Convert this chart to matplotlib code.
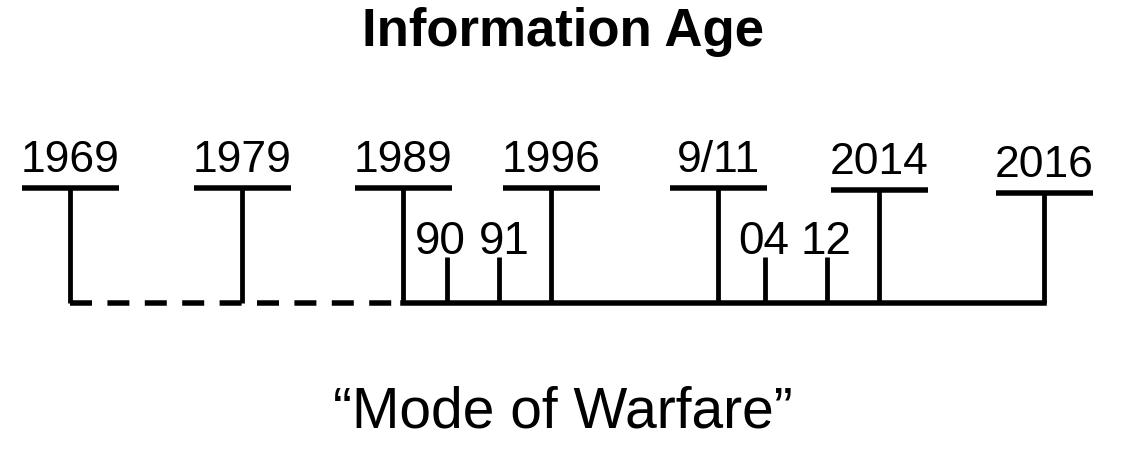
import matplotlib
matplotlib.use("Agg")
import matplotlib.pyplot as plt

# ---- data ----
title = "Information Age"
subtitle = "\u201cMode of Warfare\u201d"
event_labels = ["1969", "1979", "1989", "1996", "9/11", "2014", "2016"]
event_pos = [70, 242, 403, 551, 718, 879, 1044]        # timeline position
event_level = [188, 188, 188, 188, 188, 190, 193]      # height of the label bar
minor_labels = ["90", "91", "04", "12"]
minor_pos = [447, 499, 765, 827]
minor_label_pos = [440, 504, 764, 826]

# ---- style ----
W, H = 1125, 459
DPI = 100
FONT = ["Liberation Sans", "DejaVu Sans"]
base_y = 303
minor_top = 257
bar_half = 48.5
lw_px = lambda px: px * 72 / DPI

fig = plt.figure(figsize=(W / DPI, H / DPI), dpi=DPI)
ax = fig.add_axes([0, 0, 1, 1])
ax.set_xlim(0, W)
ax.set_ylim(H, 0)
ax.axis("off")

# baseline: dashed up to third event, solid afterwards
ax.plot([event_pos[0], event_pos[2]], [base_y, base_y], color="black",
        lw=lw_px(5.5), linestyle=(0, (4.0, 2.8)), solid_capstyle="butt",
        dash_capstyle="butt")
ax.plot([event_pos[2], event_pos[-1]], [base_y, base_y], color="black",
        lw=lw_px(5.5), solid_capstyle="projecting")

# major events
for lab, x, lev in zip(event_labels, event_pos, event_level):
    ax.plot([x, x], [lev, base_y], color="black", lw=lw_px(4.8),
            solid_capstyle="butt")
    ax.plot([x - bar_half, x + bar_half], [lev, lev], color="black",
            lw=lw_px(5.5), solid_capstyle="butt")
    ax.text(x, lev - 16, lab, ha="center", va="baseline", fontsize=32,
            family=FONT, color="black")

# minor events
for x in minor_pos:
    ax.plot([x, x], [minor_top, base_y], color="black", lw=lw_px(4.8),
            solid_capstyle="butt")
for lab, x in zip(minor_labels, minor_label_pos):
    ax.text(x, minor_top - 3, lab, ha="center", va="baseline", fontsize=33,
            family=FONT, color="black")

ax.text(W / 2, 46, title, ha="center", va="baseline", fontsize=38,
        fontweight="bold", family=FONT, color="black")
ax.text(W / 2, 427, subtitle, ha="center", va="baseline", fontsize=41,
        family=FONT, color="black")

fig.savefig("out.png", dpi=DPI, facecolor="white")
